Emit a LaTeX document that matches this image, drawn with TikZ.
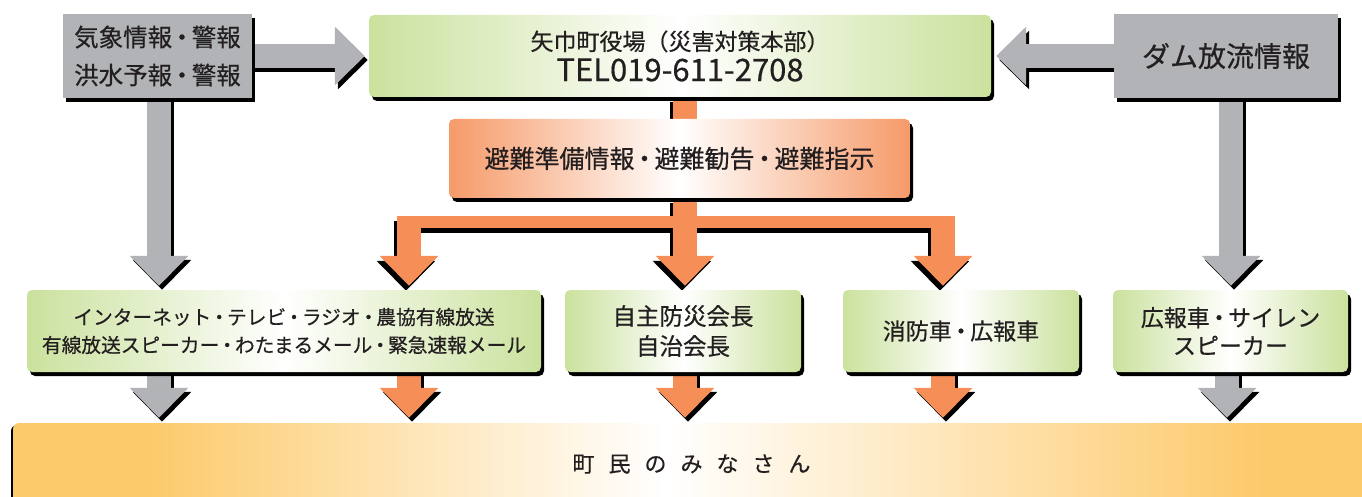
\documentclass[tikz,border=0pt]{standalone}
\usepackage{fontspec}
\setmainfont{Noto Sans CJK JP}[FakeBold=0.5]
\usetikzlibrary{arrows.meta,shadows,calc}
\definecolor{gr}{HTML}{B1B3B6}
\definecolor{grn}{HTML}{BCD982}
\definecolor{org}{HTML}{F58E57}
\definecolor{yel}{HTML}{FDCA6B}
\definecolor{txt}{HTML}{231F20}
\pgfdeclarehorizontalshading{gshade}{100bp}{color(0bp)=(grn); color(18bp)=(grn); color(50bp)=(white); color(82bp)=(grn); color(100bp)=(grn)}
\pgfdeclarehorizontalshading{oshade}{100bp}{color(0bp)=(org); color(22bp)=(org); color(50bp)=(white); color(78bp)=(org); color(100bp)=(org)}
\pgfdeclarehorizontalshading{yshade}{100bp}{color(0bp)=(yel); color(30bp)=(yel); color(49bp)=(white); color(71bp)=(yel); color(100bp)=(yel)}
\pgfdeclarelayer{bg}
\pgfsetlayers{bg,main}
\newcommand{\dt}{\kern-0.1em・\kern-0.1em}
\tikzset{
  shd/.style={general shadow={fill=black,shadow xshift=3pt,shadow yshift=-4pt}},
  boxbase/.style={inner sep=0pt,align=center,text=txt,shd},
  graybox/.style={boxbase,fill=gr},
  grnbox/.style={boxbase,rounded corners=5pt,shading=gshade},
  orgbox/.style={boxbase,rounded corners=5pt,shading=oshade},
  ba/.style={line width=24pt,-{Triangle[length=30pt,width=57pt]}},
  sh/.style={black,transform canvas={shift={(3pt,-4pt)}}},
  shl/.style={black,transform canvas={shift={(-3pt,-5pt)}}},
}
\newcommand{\twice}[2]{\draw[ba,#1,sh]#2;\draw[ba,#1]#2;}
\begin{document}
\begin{tikzpicture}[x=1pt,y=-1pt]
\useasboundingbox (0,0) rectangle (1362,497);
% nodes
\node[graybox,minimum width=189pt,minimum height=84pt,font=\fontsize{24.5pt}{38pt}\selectfont] (wx) at (157.5,56) {気象情報\dt 警報\\洪水予報\dt 警報};
\node[grnbox,minimum width=622pt,minimum height=82pt,font=\fontsize{23pt}{31pt}\selectfont] (town) at (680,56) {矢巾町役場（災害対策本部）\\{\fontsize{31pt}{31pt}\selectfont TEL019-611-2708}};
\node[graybox,minimum width=224pt,minimum height=84pt,font=\fontsize{28pt}{32pt}\selectfont] (dam) at (1226,56) {ダム放流情報};
\node[orgbox,minimum width=461pt,minimum height=79pt,font=\fontsize{25pt}{28pt}\selectfont] (evac) at (679.5,158.5) {避難準備情報\dt 避難勧告\dt 避難指示};
\node[grnbox,minimum width=514pt,minimum height=82pt,font=\fontsize{19.7pt}{28pt}\selectfont] (media) at (284,331) {インターネット\dt テレビ\dt ラジオ\dt 農協有線放送\\有線放送スピーカー\dt わたまるメール\dt 緊急速報メール};
\node[grnbox,minimum width=236pt,minimum height=82pt,font=\fontsize{23.5pt}{30pt}\selectfont] (chief) at (683,331) {自主防災会長\\自治会長};
\node[grnbox,minimum width=236pt,minimum height=82pt,font=\fontsize{23pt}{28pt}\selectfont] (fire) at (961,331) {消防車\dt 広報車};
\node[grnbox,minimum width=235pt,minimum height=82pt,font=\fontsize{23pt}{28pt}\selectfont] (siren) at (1230.5,331) {広報車\dt サイレン\\スピーカー};
\node[inner sep=0pt,rounded corners=6pt,shading=yshade,
  general shadow={fill=black,shadow xshift=-2pt,shadow yshift=-2pt},
  minimum width=1357pt,minimum height=82pt,text=txt,font=\fontsize{22pt}{26pt}\selectfont] (res) at (691.5,464)
  {町\hspace{14pt}民\hspace{14pt}の\hspace{14pt}み\hspace{14pt}な\hspace{14pt}さ\hspace{14pt}ん\hspace{27pt}};
% columns
\coordinate (k0) at (159,0);
\coordinate (k1) at (409,0);
\coordinate (k2) at (685,0);
\coordinate (k3) at (943,0);
\coordinate (k4) at (1231,0);
\coordinate (k5) at (1227,0);
\coordinate (barL) at (397,222);
\coordinate (barR) at (955,222);
\begin{pgfonlayer}{bg}
% gray arrows
\twice{gr,shorten >=4pt}{(wx.east) -- (town.west)}
\twice{gr,shorten >=5pt}{(dam.west) -- (town.east)}
\twice{gr,shorten >=4pt}{(k0 |- wx.south) -- (k0 |- media.north)}
\twice{gr,shorten >=4pt}{(k4 |- dam.south) -- (k4 |- siren.north)}
% tree shadow
\begin{scope}[shl]
\draw[line width=24pt] (k2 |- town.south) -- (k2 |- evac.north);
\draw[line width=12pt] (barL) -- (barR);
\draw[ba,shorten >=4pt] (k2 |- evac.south) -- (k2 |- chief.north);
\draw[ba,shorten >=4pt] (k1 |- barL) -- (k1 |- media.north);
\draw[ba,shorten >=4pt] (k3 |- barR) -- (k3 |- fire.north);
\end{scope}
\begin{scope}[org]
\draw[line width=24pt] (k2 |- town.south) -- (k2 |- evac.north);
\draw[line width=12pt] (barL) -- (barR);
\draw[ba,shorten >=4pt] (k2 |- evac.south) -- (k2 |- chief.north);
\draw[ba,shorten >=4pt] (k1 |- barL) -- (k1 |- media.north);
\draw[ba,shorten >=4pt] (k3 |- barR) -- (k3 |- fire.north);
\end{scope}
% lower arrows
\twice{gr,shorten >=5pt}{(k0 |- media.south) -- (k0 |- res.north)}
\twice{org,shorten >=5pt}{(k1 |- media.south) -- (k1 |- res.north)}
\twice{org,shorten >=5pt}{(k2 |- chief.south) -- (k2 |- res.north)}
\twice{org,shorten >=5pt}{(k3 |- fire.south) -- (k3 |- res.north)}
\twice{gr,shorten >=5pt}{(k5 |- siren.south) -- (k5 |- res.north)}
\end{pgfonlayer}
\end{tikzpicture}
\end{document}
